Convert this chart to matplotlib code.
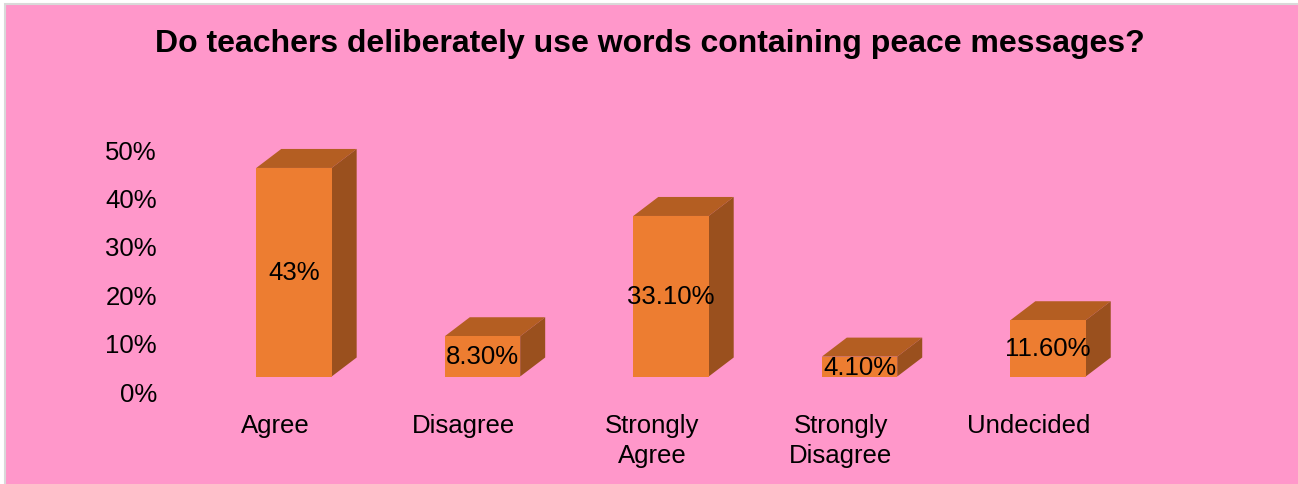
import matplotlib.pyplot as plt
from matplotlib.patches import Polygon, Rectangle
from matplotlib.transforms import ScaledTranslation
from matplotlib.ticker import PercentFormatter

plt.rcParams['font.family'] = ['Liberation Sans', 'DejaVu Sans']

categories = ['Agree', 'Disagree', 'Strongly\nAgree', 'Strongly\nDisagree', 'Undecided']
shares = [43, 8.3, 33.1, 4.1, 11.6]
share_labels = ['43%', '8.30%', '33.10%', '4.10%', '11.60%']
y_ticks = [0, 10, 20, 30, 40, 50]

front_col = '#ED7D31'
top_col = '#B45E22'
side_col = '#9A501E'
bg_col = '#FF97CA'

fig = plt.figure(figsize=(12.98, 4.85), dpi=100, facecolor='white')
fig.patches.append(Rectangle((5 / 1298, -0.02), 1.0, 480 / 485 + 0.02, transform=fig.transFigure,
                             facecolor=bg_col, edgecolor='#D9D9D9', linewidth=1.5, zorder=-10))

ax = fig.add_axes([162 / 1298, 107.5 / 485, 1018 / 1298, 266.75 / 485])
ax.set_xlim(-0.7, 4.7)
ax.set_ylim(0, 55)
ax.patch.set_visible(False)
for s in ax.spines.values():
    s.set_visible(False)

width = 0.4
dx = 25 / 188.5   # depth of the boxes, x data units
dy = 19 / 4.85    # depth of the boxes, y data units

for i, v in enumerate(shares):
    x0, x1 = i - width / 2, i + width / 2
    ax.bar(i, v, width, color=front_col, zorder=3)
    top = Polygon([(x0, v), (x1, v), (x1 + dx, v + dy), (x0 + dx, v + dy)],
                  closed=True, facecolor=top_col, edgecolor='none', zorder=2, clip_on=False)
    side = Polygon([(x1, 0), (x1 + dx, dy), (x1 + dx, v + dy), (x1, v)],
                   closed=True, facecolor=side_col, edgecolor='none', zorder=2, clip_on=False)
    ax.add_patch(top)
    ax.add_patch(side)
    ax.text(i, v / 2, share_labels[i], ha='center', va='center', fontsize=18.5, zorder=5)

ax.set_yticks(y_ticks)
ax.yaxis.set_major_formatter(PercentFormatter(decimals=0))
ax.set_xticks(range(len(categories)))
ax.set_xticklabels(categories, linespacing=1.3)
ax.tick_params(axis='both', length=0, labelsize=18.5)
ax.tick_params(axis='y', pad=3.6)
ax.tick_params(axis='x', pad=26.5)

# shift the axis labels like the floor of a 3-D chart
y_shift = ScaledTranslation(0, -15 / 100, fig.dpi_scale_trans)
x_shift = ScaledTranslation(-19 / 100, 0, fig.dpi_scale_trans)
for lab in ax.get_yticklabels():
    lab.set_transform(lab.get_transform() + y_shift)
for lab in ax.get_xticklabels():
    lab.set_transform(lab.get_transform() + x_shift)

fig.text(650 / 1298, 1 - 44 / 485, 'Do teachers deliberately use words containing peace messages?',
         ha='center', va='center', fontsize=23, fontweight='bold')

fig.savefig('out.png', dpi=100, facecolor=fig.get_facecolor())
